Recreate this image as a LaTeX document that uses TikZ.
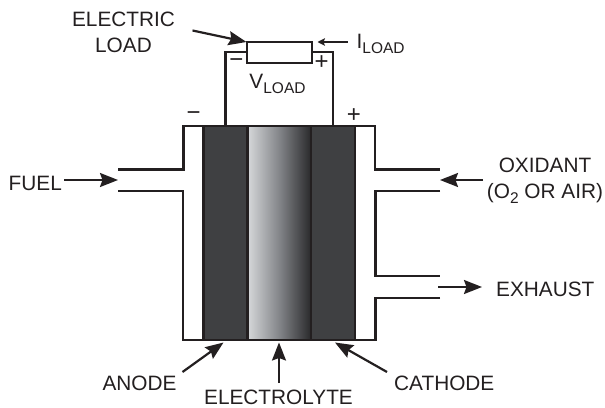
\documentclass[tikz,border=0pt]{standalone}
\usepackage{fontspec}
\setmainfont{Liberation Sans}
\usetikzlibrary{arrows.meta,positioning}
\definecolor{ink}{RGB}{35,31,32}
\definecolor{plate}{RGB}{63,64,66}
\definecolor{lightgel}{RGB}{214,216,218}
\definecolor{midgel}{RGB}{130,132,136}
\definecolor{darkgel}{RGB}{40,40,42}
\newcommand{\lowtext}[1]{\raisebox{-5.5pt}{\fontsize{15.5}{16}\selectfont #1}}
\tikzset{
	wire/.style={draw=ink, line width=2.2pt, line cap=butt, line join=miter},
	pointer/.style={draw=ink, line width=2.2pt, -{Stealth[length=18pt,width=14pt,inset=2.5pt]}},
	thinpointer/.style={draw=ink, line width=1.1pt, -{Stealth[length=7.5pt,width=7.5pt,inset=1.5pt]}},
	plate box/.style={draw=ink, fill=plate, line width=2.4pt, minimum width=44pt, minimum height=214pt, inner sep=0pt, outer sep=0pt},
	label/.style={text=ink, font=\fontsize{20.8}{25.7}\selectfont, align=center, inner sep=0pt},
	polarity/.style={text=ink, font=\fontsize{24}{24}\selectfont, inner sep=0pt}
}
\begin{document}
\begin{tikzpicture}[x=1pt, y=-1pt]
	\useasboundingbox (0,0) rectangle (605,407);
	% cell
	\node[draw=ink, line width=1.2pt, left color=lightgel, right color=darkgel, middle color=midgel, minimum width=64pt, minimum height=214pt, inner sep=0pt, outer sep=0pt] (electrolyte) at (279.5,233) {};
	\node[plate box] (anode) at (225.5,233) {};
	\node[plate box] (cathode) at (333,233) {};
	% load
	\node[draw=ink, fill=white, line width=2.2pt, minimum width=65pt, minimum height=21pt, inner sep=0pt, outer sep=0pt] (load) at (279.2,52.2) {};
	\draw[wire] (load.west) -| (anode.north);
	\draw[wire] (load.east) -| (cathode.north);
	% housing
	\coordinate (fueltop) at (118,169.5);
	\coordinate (fuelbot) at (118,191);
	\coordinate (oxtop) at (440,169.5);
	\coordinate (oxbot) at (440,191);
	\coordinate (extop) at (440,276);
	\coordinate (exbot) at (440,298);
	\draw[wire] (anode.north west) -- ++(-20,0) |- (fueltop);
	\draw[wire] (fuelbot) -| (183,340) -- (anode.south west);
	\draw[wire] (cathode.north east) -- ++(20,0) |- (oxtop);
	\draw[wire] (oxbot) -| (375.5,276) -- (extop);
	\draw[wire] (exbot) -| (375.5,340) -- (cathode.south east);
	% labels
	\node[label] (loadname) at (123.5,32.5) {ELECTRIC\\LOAD};
	\node[label, anchor=base west] (iload) at (356.5,48) {I\lowtext{LOAD}};
	\node[label, anchor=base] (vload) at (277.5,88) {V\lowtext{LOAD}};
	\node[polarity] (loadminus) at (236.5,63) {−};
	\node[polarity] (loadplus) at (321.7,63) {+};
	\node[polarity] (cellminus) at (193.7,116) {−};
	\node[polarity] (cellplus) at (354,116) {+};
	\node[label, anchor=base west] (fuel) at (8.5,190.5) {FUEL};
	\node[label, anchor=base] (oxidant) at (545,172.7) {OXIDANT};
	\node[label, anchor=base] (oxair) at (545,198) {(O\lowtext{2} OR AIR)};
	\node[label, anchor=base west] (exhaust) at (496,296) {EXHAUST};
	\node[label, anchor=base] (anodename) at (139.5,390) {ANODE};
	\node[label, anchor=base] (electrolytename) at (278.5,404) {ELECTROLYTE};
	\node[label, anchor=base west] (cathodename) at (394,390) {CATHODE};
	% arrows
	\coordinate (loadtail) at (192.5,30.5);
	\coordinate (loadtip) at (246.5,42);
	\coordinate (itail) at (347.5,42);
	\coordinate (itip) at (317.5,42);
	\coordinate (fueltail) at (64,180);
	\coordinate (fuelout) at (118,180);
	\coordinate (oxtail) at (483,180);
	\coordinate (oxtip) at (440,180);
	\coordinate (extail) at (438,287);
	\coordinate (extip) at (482,287);
	\coordinate (anodetail) at (182.5,372);
	\coordinate (anodetip) at (223.5,342.5);
	\coordinate (geltail) at (279,383);
	\coordinate (geltip) at (279,342.5);
	\coordinate (cathodetail) at (387,372);
	\coordinate (cathodetip) at (335,342.5);
	\draw[pointer] (loadtail) -- (loadtip);
	\draw[thinpointer] (itail) -- (itip);
	\draw[pointer] (fueltail) -- (fuelout);
	\draw[pointer] (oxtail) -- (oxtip);
	\draw[pointer] (extail) -- (extip);
	\draw[pointer] (anodetail) -- (anodetip);
	\draw[pointer] (geltail) -- (geltip);
	\draw[pointer] (cathodetail) -- (cathodetip);
\end{tikzpicture}
\end{document}
